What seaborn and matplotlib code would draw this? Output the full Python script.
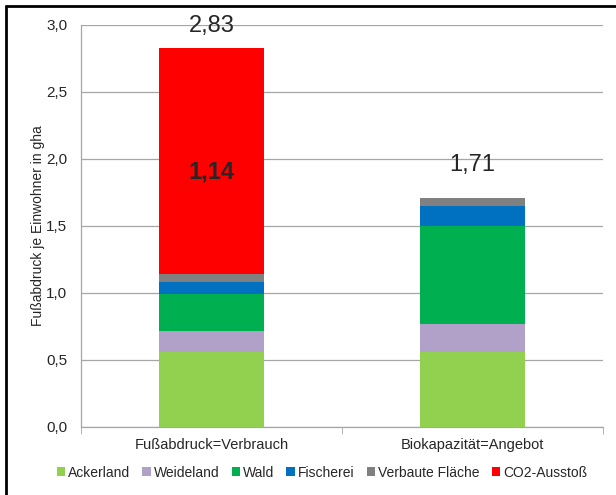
import numpy as np
import pandas as pd
import seaborn as sns
import matplotlib.pyplot as plt
from matplotlib.patches import Patch
from matplotlib.lines import Line2D

# data
categories = ["Fußabdruck=Verbrauch", "Biokapazität=Angebot"]
ackerland = [0.56, 0.56]
weideland = [0.16, 0.21]
wald = [0.27, 0.73]
fischerei = [0.09, 0.15]
verbaut = [0.06, 0.06]
co2 = [1.69, 0.0]
total_labels = ["2,83", "1,71"]
inner_label = "1,14"

series = [
    ("Ackerland", ackerland, "#92D050"),
    ("Weideland", weideland, "#B1A0C7"),
    ("Wald", wald, "#00B050"),
    ("Fischerei", fischerei, "#0070C0"),
    ("Verbaute Fläche", verbaut, "#808080"),
    ("CO2-Ausstoß", co2, "#FF0000"),
]

sns.set_style("white")
plt.rcParams["font.family"] = ["Liberation Sans", "DejaVu Sans"]

fig = plt.figure(figsize=(6.16, 4.95), dpi=100)
ax = fig.add_axes([0.1315, 0.1374, 0.8475, 0.8121])

bottom = np.zeros(len(categories))
for name, vals, col in series:
    df = pd.DataFrame({"cat": categories, "val": vals})
    sns.barplot(data=df, x="cat", y="val", color=col, bottom=bottom,
                width=0.4, ax=ax, saturation=1, edgecolor="none", zorder=3)
    bottom = bottom + np.array(vals)

# totals above bars
ax.annotate(total_labels[0], (0, bottom[0]), xytext=(0, 16), textcoords="offset points",
            ha="center", va="center", fontsize=17)
ax.annotate(total_labels[1], (1, bottom[1]), xytext=(0, 24), textcoords="offset points",
            ha="center", va="center", fontsize=17)
# label in the CO2 block
ax.text(0, 1.90, inner_label, ha="center", va="center",
        fontsize=17, fontweight="bold", zorder=5)

ax.set_ylim(0, 3.0)
ax.set_xlim(-0.5, 1.5)
ax.set_yticks(np.arange(0, 3.01, 0.5))
ax.set_yticklabels([f"{v:.1f}".replace(".", ",") for v in np.arange(0, 3.01, 0.5)])
ax.yaxis.grid(True, color="#A6A6A6", lw=0.9, zorder=0)
ax.set_axisbelow(True)

ax.set_xticks([0, 1])
ax.set_xticklabels(categories)
ax.set_xticks([-0.5, 0.5, 1.5], minor=True)
ax.tick_params(axis="x", which="major", length=0, pad=8, labelsize=10.5)
ax.tick_params(axis="x", which="minor", length=5, color="#A6A6A6", direction="out")
ax.tick_params(axis="y", length=5, color="#A6A6A6", direction="out", labelsize=11, pad=5)
ax.tick_params(axis="x", bottom=True, which="minor")

for s in ["top", "right"]:
    ax.spines[s].set_visible(False)
for s in ["left", "bottom"]:
    ax.spines[s].set_color("#A6A6A6")
    ax.spines[s].set_linewidth(0.9)

ax.set_xlabel("")
ax.set_ylabel("Fußabdruck je Einwohner in gha", fontsize=10, labelpad=1)

handles = [Patch(facecolor=c, edgecolor="none", label=n) for n, v, c in series]
fig.legend(handles=handles, loc="center", bbox_to_anchor=(0.523, 0.045), ncol=6,
           frameon=False, fontsize=10, handlelength=0.6, handleheight=0.6,
           handletextpad=0.25, columnspacing=0.85)

# frame lines (top and left border)
fig.add_artist(Line2D([0.0105, 1.0], [0.987, 0.987], color="black", lw=2, transform=fig.transFigure))
fig.add_artist(Line2D([0.0105, 0.0105], [0.0, 0.987], color="black", lw=2, transform=fig.transFigure))

fig.savefig("out.png", dpi=100)
